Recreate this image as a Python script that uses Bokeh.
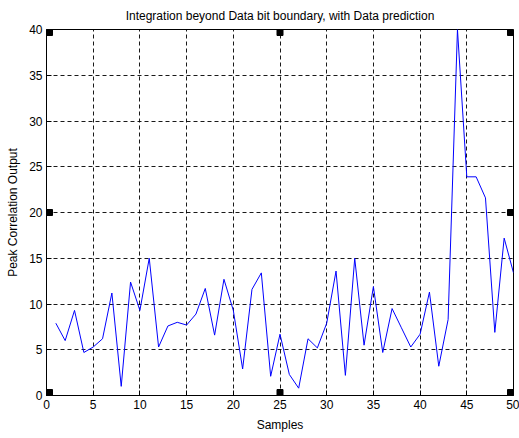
from bokeh.plotting import figure
from bokeh.models import Range1d, SingleIntervalTicker
from bokeh.embed import file_html
from bokeh.resources import INLINE

samples = list(range(1, 51))
peak_output = [7.9, 6.0, 9.3, 4.7, 5.3, 6.2, 11.2, 1.0, 12.4, 9.3,
               15.0, 5.3, 7.6, 8.0, 7.7, 8.9, 11.7, 6.6, 12.7, 9.3,
               2.9, 11.6, 13.4, 2.1, 6.7, 2.3, 0.8, 6.2, 5.2, 7.9,
               13.6, 2.2, 15.0, 5.5, 11.9, 4.7, 9.5, 7.4, 5.3, 6.7,
               11.3, 3.2, 8.3, 40.0, 23.9, 23.9, 21.6, 6.9, 17.2, 13.4]

title_text = "Integration beyond Data bit boundary, with Data prediction"
x_label = "Samples"
y_label = "Peak Correlation Output"

# selection handles at corners / edge midpoints of the axes box
handle_x = [0, 25, 50, 0, 50, 0, 25, 50]
handle_y = [0, 0, 0, 20, 20, 40, 40, 40]

FONT = "Liberation Sans"
FW, FH = 467, 366

p = figure(frame_width=FW, frame_height=FH,
           x_range=Range1d(0, 50), y_range=Range1d(0, 40),
           output_backend="svg", toolbar_location=None,
           min_border_left=46, min_border_right=6, min_border_top=4,
           min_border_bottom=4)
p.background_fill_color = "white"
p.border_fill_color = "white"
p.outline_line_color = "black"
p.outline_line_width = 1

p.title.text = title_text
p.title.align = "center"
p.title.text_font = FONT
p.title.text_font_size = "12px"
p.title.text_font_style = "normal"
p.title.text_color = "black"
p.title.standoff = 13

ticker_x = SingleIntervalTicker(interval=5)
ticker_y = SingleIntervalTicker(interval=5)

for ax in [p.xaxis[0], p.yaxis[0]]:
    ax.major_tick_in = 5
    ax.major_tick_out = 0
    ax.minor_tick_in = 0
    ax.minor_tick_out = 0
    ax.axis_line_color = "black"
    ax.major_tick_line_color = "black"
    ax.major_label_text_font = FONT
    ax.major_label_text_font_size = "12px"
    ax.major_label_text_color = "black"
    ax.axis_label_text_font = FONT
    ax.axis_label_text_font_size = "12px"
    ax.axis_label_text_font_style = "normal"
    ax.axis_label_text_color = "black"
    ax.major_label_standoff = 4
    ax.axis_label_standoff = 6

p.xaxis[0].ticker = ticker_x
p.yaxis[0].ticker = ticker_y
p.xaxis[0].axis_label = x_label
p.yaxis[0].axis_label = y_label

for g, tk in [(p.xgrid[0], ticker_x), (p.ygrid[0], ticker_y)]:
    g.ticker = tk
    g.grid_line_color = "black"
    g.grid_line_dash = "4 3"
    g.grid_line_width = 1
    g.grid_line_alpha = 0.9

p.line(samples, peak_output, line_color="#0000ff", line_width=1)

# handles sit inside the box, offset half their size (3px) inward
dx = 3.0 / (FW / 50.0)
dy = 3.0 / (FH / 40.0)
hx = [x + dx if x == 0 else (x - dx if x == 50 else x) for x in handle_x]
hy = [y + dy if y == 0 else (y - dy if y == 40 else y) for y in handle_y]
p.scatter(hx, hy, marker="square", size=6, fill_color="black", line_color="black")

open("out.html", "w").write(file_html(p, INLINE))
